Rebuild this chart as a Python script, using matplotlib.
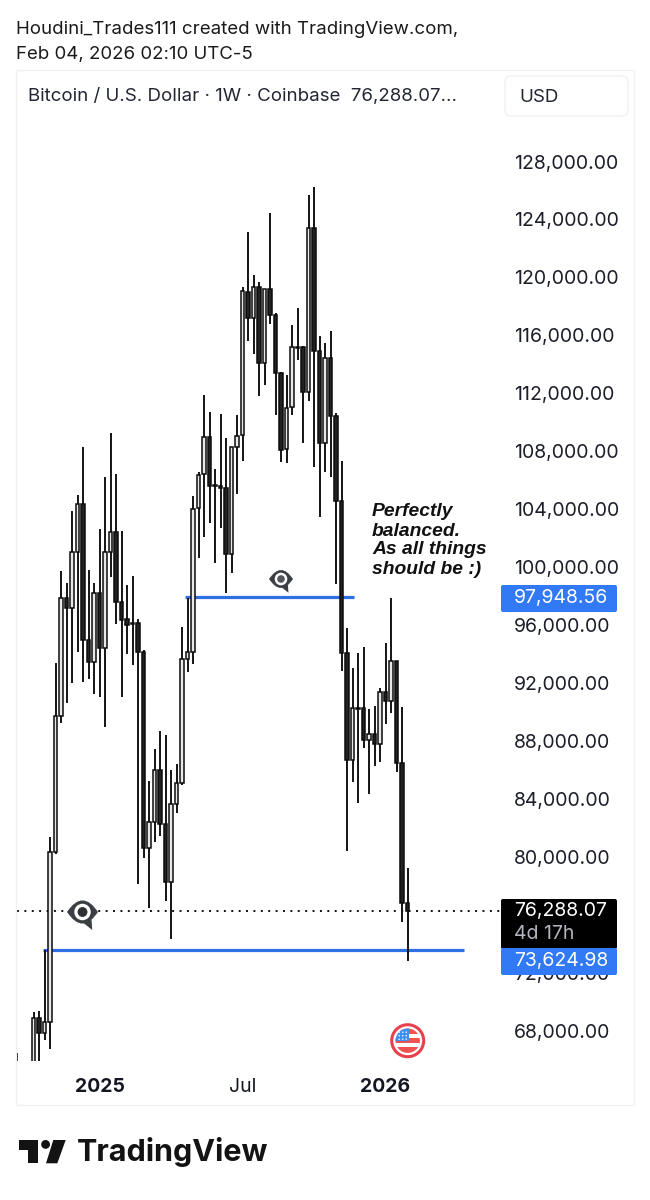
import numpy as np
import matplotlib
matplotlib.use('Agg')
import matplotlib.pyplot as plt
from matplotlib.patches import Circle, FancyBboxPatch, PathPatch, Polygon, Rectangle
from matplotlib.path import Path

plt.rcParams['font.family'] = ['Inter', 'DejaVu Sans']

# weekly candles, one row per week: open, high, low, close
opens = [64000, 64500, 63000, 65000, 68900, 67870, 68630, 80360, 89740, 97880, 97190, 101060,
         104370, 94980, 93470, 98230, 94430, 101060, 102440, 97610, 96430, 96160, 96160, 94160,
         80630, 82430, 86010, 82290, 78290, 83670, 85120, 93670, 94160, 104090, 106440, 108990,
         105680, 105610, 105470, 100920, 108300, 109130, 119000, 117200, 119340, 114100, 119200,
         117410, 113410, 108160, 111060, 115200, 115200, 112100, 123410, 114930, 108580, 114440,
         110440, 104580, 94090, 86700, 90290, 90290, 88080, 88500, 87810, 91400, 90780, 93540,
         86500, 76840]
highs = [66490, 65000, 65500, 69320, 69390, 73590, 81390, 93400, 99750, 98920, 103890, 104990,
         108300, 99810, 98920, 102640, 106230, 109270, 106440, 102510, 98780, 99400, 96430, 94290,
         85260, 87460, 88710, 88430, 86010, 86430, 95880, 97880, 104920, 106580, 111890, 110720,
         106780, 110580, 108920, 108300, 110510, 119340, 123140, 120170, 119690, 119200, 124450,
         117550, 113480, 113270, 116720, 117890, 115270, 125690, 126240, 115960, 115480, 116310,
         110650, 107340, 95810, 93050, 94090, 94500, 90220, 90430, 91670, 94780, 97880, 93540,
         90360, 79250]
lows = [62000, 62000, 62500, 64500, 65000, 67380, 66760, 80220, 89260, 90640, 92020, 94160,
        92090, 92290, 91260, 91050, 88980, 99330, 96090, 91050, 94020, 93260, 78150, 79940,
        76490, 81050, 81460, 76980, 74350, 83050, 84980, 92780, 93330, 100640, 102090, 103060,
        100300, 102710, 98230, 99610, 105060, 107340, 115620, 114720, 111820, 112580, 116790,
        110510, 107270, 107200, 110510, 114300, 108580, 111480, 106920, 103470, 106580, 106230,
        98850, 92850, 80430, 85190, 83740, 87530, 84360, 86290, 86570, 89190, 89950, 85880,
        75530, 72840]
closes = [64500, 63000, 64500, 68900, 67870, 68630, 80360, 89740, 97880, 97190, 101060, 104370,
          94980, 93470, 98230, 94430, 101060, 102440, 97610, 96360, 96020, 96090, 94160, 80630,
          82430, 86010, 82290, 78290, 83670, 85120, 93670, 94160, 104020, 106370, 108990, 105610,
          105610, 105470, 100920, 108300, 109060, 119070, 117200, 119340, 114100, 119200, 117410,
          113410, 108090, 110990, 115200, 115100, 112100, 123410, 114930, 108580, 114440, 110440,
          104580, 94090, 86700, 90290, 90230, 88080, 88500, 87810, 91400, 90780, 93540, 86500,
          76840, 76288.07]

# 76,000 sits behind the last price tag in the reference, so it is left out
price_ticks = [68000, 72000, 80000, 84000, 88000, 92000, 96000, 100000, 104000, 108000,
               112000, 116000, 120000, 124000, 128000]
time_ticks = [15, 41, 67]
time_labels = ['2025', 'Jul', '2026']
last_price = 76288.07
upper_level = 97948.56
lower_level = 73624.98

W, H = 650, 1200
fig = plt.figure(figsize=(W / 100, H / 100), dpi=100, facecolor='white')

# candle pane, placed in pixels
left, right, top, bottom = 17, 503, 130, 1061
ax = fig.add_axes([left / W, 1 - bottom / H, (right - left) / W, (bottom - top) / H])
ax.set_facecolor('none')
for s in ax.spines.values():
    s.set_visible(False)
ax.set_xlim(0, (right - left) / 5.5)
ax.set_ylim(65935, 130174)

weeks = np.arange(len(opens))
o = np.array(opens)
h = np.array(highs)
l = np.array(lows)
c = np.array(closes)
up = c >= o

ax.axhline(last_price, color='#111111', lw=1.4, ls=(0, (1, 2.8)), zorder=1)
ax.hlines(upper_level, 30.6, 61.3, color='#2f6fe4', lw=2.3, zorder=2)
ax.hlines(lower_level, 4.7, 81.3, color='#2f6fe4', lw=2.3, zorder=2)

ax.vlines(weeks, l, h, color='#141414', lw=1.4, zorder=3)
ax.bar(weeks, np.abs(c - o), bottom=np.minimum(o, c), width=0.56,
       color=np.where(up, '#e8e8e8', '#222222'), edgecolor='#0c0c0c', lw=1.1, zorder=4)

ax.yaxis.tick_right()
ax.set_yticks(price_ticks)
ax.set_yticklabels([f'{p:,.2f}' for p in price_ticks])
ax.tick_params(axis='y', length=0, pad=7.8, labelsize=14, labelcolor='#1c1f2a')
ax.set_xticks(time_ticks)
ax.set_xticklabels(time_labels)
ax.tick_params(axis='x', length=0, pad=12.5, labelsize=14, labelcolor='#131722')
for t, w in zip(ax.get_xticklabels(), ['bold', 'normal', 'bold']):
    t.set_fontweight(w)

# everything around the pane, in pixel coordinates
ov = fig.add_axes([0, 0, 1, 1], facecolor='none')
ov.set_xlim(0, W)
ov.set_ylim(H, 0)
ov.axis('off')

ov.add_patch(Rectangle((16, 69.5), 618, 1035, fc='none', ec='#f0f1f4', lw=1))
ov.text(16, 29, 'Houdini_Trades111 created with TradingView.com,', fontsize=13.45, va='center', color='#1a1a1a')
ov.text(16, 55, 'Feb 04, 2026 02:10 UTC-5', fontsize=13.45, va='center', color='#1a1a1a')
ov.text(28, 97, 'Bitcoin / U.S. Dollar · 1W · Coinbase  76,288.07...', fontsize=13.45, va='center', color='#222633')
ov.add_patch(FancyBboxPatch((505, 76), 123, 40, boxstyle='round,pad=0,rounding_size=6',
                            fc='white', ec='#f0f1f4', lw=1))
ov.text(519, 97, 'USD', fontsize=13.5, va='center', color='#222633')

ov.text(372, 512, 'Perfectly', family='Liberation Sans', style='italic', weight='bold', fontsize=13.9, va='center', color='#111111')
ov.text(372, 531, 'balanced.', family='Liberation Sans', style='italic', weight='bold', fontsize=13.9, va='center', color='#111111')
ov.text(372, 550, 'As all things', family='Liberation Sans', style='italic', weight='bold', fontsize=13.9, va='center', color='#111111')
ov.text(372, 569, 'should be :)', family='Liberation Sans', style='italic', weight='bold', fontsize=13.9, va='center', color='#111111')


def price_tag(y0, y1, color):
    ov.add_patch(FancyBboxPatch((501, y0), 116, y1 - y0, boxstyle='round,pad=0,rounding_size=2',
                                fc=color, ec='none', zorder=5))


price_tag(899, 949, '#000000')
price_tag(948, 975, '#3179f5')
price_tag(585, 612, '#3179f5')
ov.text(514, 911, '76,288.07', fontsize=14, color='white', va='center', zorder=6)
ov.text(514, 934, '4d 17h', fontsize=14, color='#b2b5be', va='center', zorder=6)
ov.text(514, 961, '73,624.98', fontsize=14, color='white', va='center', zorder=6)
ov.text(514, 598, '97,948.56', fontsize=14, color='white', va='center', zorder=6)


def eye(cx, cy, r, core):
    codes = [Path.MOVETO, Path.CURVE3, Path.CURVE3, Path.CURVE3, Path.CURVE3, Path.CLOSEPOLY]
    verts = [(cx - r, cy), (cx, cy - 1.5 * r), (cx + r, cy), (cx, cy + 1.5 * r), (cx - r, cy), (cx - r, cy)]
    ov.add_patch(Polygon([(cx - 0.1 * r, cy + 0.6 * r), (cx + 0.6 * r, cy + 0.5 * r), (cx + 0.65 * r, cy + 1.2 * r)],
                         fc='#3a3d42', ec='none', zorder=7))
    ov.add_patch(PathPatch(Path(verts, codes), fc='#3a3d42', ec='#3a3d42', lw=0.5, zorder=7))
    ov.add_patch(Circle((cx, cy), 0.55 * r, fc='white', ec='none', zorder=8))
    ov.add_patch(Circle((cx, cy), 0.33 * r, fc=core, ec='none', zorder=9))


eye(82.5, 912, 15, '#2f3136')
eye(281, 579, 11.5, '#53565c')

# flag marker
fx, fy = 407.7, 1040.7
ov.add_patch(Circle((fx, fy), 16, fc='white', ec='#e8404c', lw=2.2, zorder=7))
clip = Circle((fx, fy), 12.2, transform=ov.transData)
for y0, col in [(-12.5, '#ef5350'), (-7, '#ffffff'), (-3, '#ef5350'), (2, '#ffffff'), (6, '#ef5350')]:
    r = ov.add_patch(Rectangle((fx - 13, fy + y0), 26, 6.5, fc=col, ec='none', zorder=8))
    r.set_clip_path(clip)
r = ov.add_patch(Rectangle((fx - 13, fy - 13), 14, 13.5, fc='#3d8ff0', ec='none', zorder=9))
r.set_clip_path(clip)
for dx in (-8.5, -5, -1.5):
    for dy in (-8.5, -5, -1.5):
        ov.add_patch(Circle((fx + dx, fy + dy), 0.75, fc='white', ec='none', zorder=10))

# logo
ov.add_patch(Polygon([(19, 1140), (38.3, 1140), (38.3, 1163.3), (28.3, 1163.3), (28.3, 1150), (19, 1150)],
                     fc='#131313', ec='none'))
ov.add_patch(Circle((45.6, 1144.4), 4.4, fc='#131313', ec='none'))
ov.add_patch(Polygon([(53.3, 1140), (65.7, 1140), (57.3, 1163.3), (46, 1163.3)], fc='#131313', ec='none'))
ov.text(77, 1152, 'TradingView', fontsize=22, weight='bold', va='center', color='#131313')

fig.savefig('out.png', dpi=100, facecolor='white')
